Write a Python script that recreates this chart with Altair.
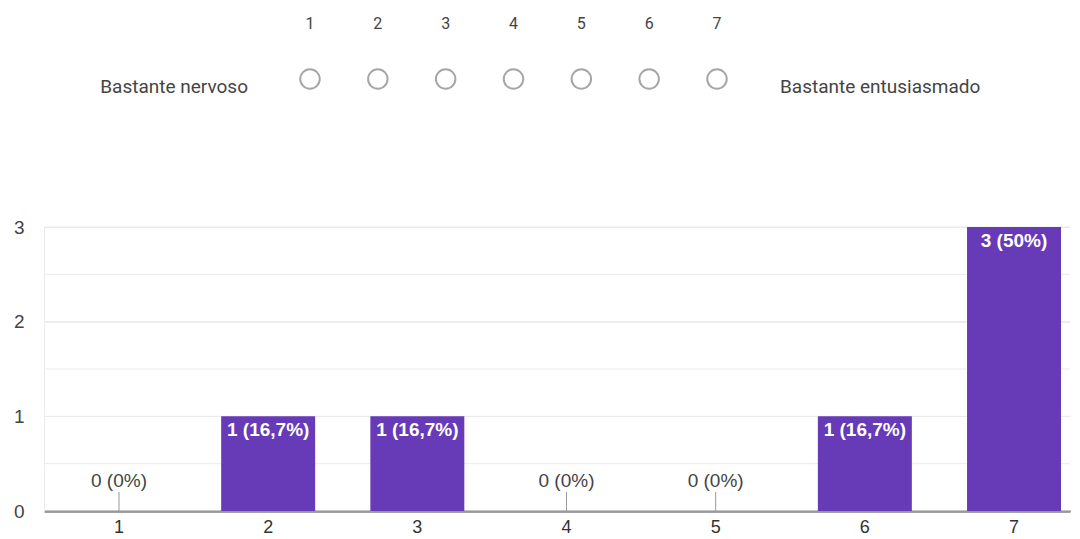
import altair as alt
import pandas as pd

# ---- data ----
opcoes = [1, 2, 3, 4, 5, 6, 7]
contagens = [0, 1, 1, 0, 0, 1, 3]
rotulos = ["0 (0%)", "1 (16,7%)", "1 (16,7%)", "0 (0%)", "0 (0%)", "1 (16,7%)", "3 (50%)"]
escala = [1, 2, 3, 4, 5, 6, 7]
ancora_esq = "Bastante nervoso"
ancora_dir = "Bastante entusiasmado"
y_ticks = [0, 0.5, 1, 1.5, 2, 2.5, 3]
y_rotulos = [0, 1, 2, 3]

W = 1026
ROXO = "#673AB7"
GRADE = "#ebebeb"

df = pd.DataFrame({"opcao": opcoes, "contagem": contagens, "rotulo": rotulos})
df_escala = pd.DataFrame({"valor": escala})
df_grade = pd.DataFrame({"contagem": y_ticks})

# ---- top scale (Likert header) ----
k = 67.83
d0 = 1 - 266 / k
d1 = d0 + W / k
xsc = alt.Scale(domain=[d0, d1], nice=False, zero=False)
ys = alt.Scale(type="point", domain=["num", "opc"], padding=0.2)

nums = alt.Chart(df_escala).mark_text(font="Roboto", fontSize=16, color="#444").encode(
    x=alt.X("valor:Q", scale=xsc, axis=None),
    y=alt.Y(datum="num", scale=ys, axis=None), text="valor:Q"
)
circ = alt.Chart(df_escala).mark_point(
    shape="circle", size=380, filled=False, stroke="#a6a6a6", strokeWidth=2, opacity=1
).encode(x=alt.X("valor:Q", scale=xsc, axis=None), y=alt.Y(datum="opc", scale=ys, axis=None))

esq = alt.Chart(pd.DataFrame({"t": [ancora_esq], "v": [escala[0]]})).mark_text(
    font="Roboto", fontSize=19, color="#444", align="right", dx=-62, dy=8
).encode(x=alt.X("v:Q", scale=xsc, axis=None),
         y=alt.Y(datum="opc", scale=ys, axis=None), text="t:N")
dir_ = alt.Chart(pd.DataFrame({"t": [ancora_dir], "v": [escala[-1]]})).mark_text(
    font="Roboto", fontSize=19, color="#444", align="left", dx=63, dy=8
).encode(x=alt.X("v:Q", scale=xsc, axis=None),
         y=alt.Y(datum="opc", scale=ys, axis=None), text="t:N")

topo = alt.layer(nums, circ, esq, dir_).properties(width=W, height=77)

# ---- bar chart ----
x = alt.X("opcao:O", sort=opcoes,
          scale=alt.Scale(paddingInner=0.37, paddingOuter=0.124, align=0.757),
          axis=alt.Axis(title=None, labelAngle=0, labelFontSize=18, labelColor="#333",
                        labelFont="Liberation Sans", domainColor="#444", domainWidth=2,
                        ticks=False, labelPadding=7, grid=False))
yscale = alt.Scale(domain=[0, 3], nice=False)
yaxis = alt.Axis(title=None, values=y_rotulos, format="d",
                 labelFontSize=19, labelColor="#444", labelFont="Liberation Sans",
                 ticks=False, labelPadding=20, grid=True, gridColor=GRADE,
                 domainColor=GRADE)
y = alt.Y("contagem:Q", scale=yscale, axis=yaxis)

grade = alt.Chart(df_grade).mark_rule(color=GRADE, strokeWidth=1).encode(y=y)

base = alt.Chart(df)
barras = base.mark_bar(color=ROXO).encode(x=x, y=y)
rot_barras = base.transform_filter("datum.contagem > 0").mark_text(
    baseline="top", dy=5, color="white", fontWeight="bold", fontSize=19, font="Liberation Sans"
).encode(x=x, y=y, text="rotulo:N")
riscos = base.transform_filter("datum.contagem == 0").mark_rule(
    color="#999", y2Offset=-19, strokeWidth=1
).encode(x=x, y=y, y2=alt.Y2("contagem:Q"))
rot_zero = base.transform_filter("datum.contagem == 0").mark_text(
    baseline="bottom", dy=-20, color="#444", fontSize=19, font="Liberation Sans"
).encode(x=x, y=y, text="rotulo:N")

grafico = alt.layer(grade, barras, riscos, rot_barras, rot_zero).properties(width=W, height=284)

chart = alt.vconcat(topo, grafico, spacing=121).properties(
    padding={"left": 5, "top": 5, "right": 0, "bottom": 0}
).configure_view(stroke="transparent", strokeWidth=0)

chart.save("out.html", embed_options={"renderer": "svg", "actions": False})
